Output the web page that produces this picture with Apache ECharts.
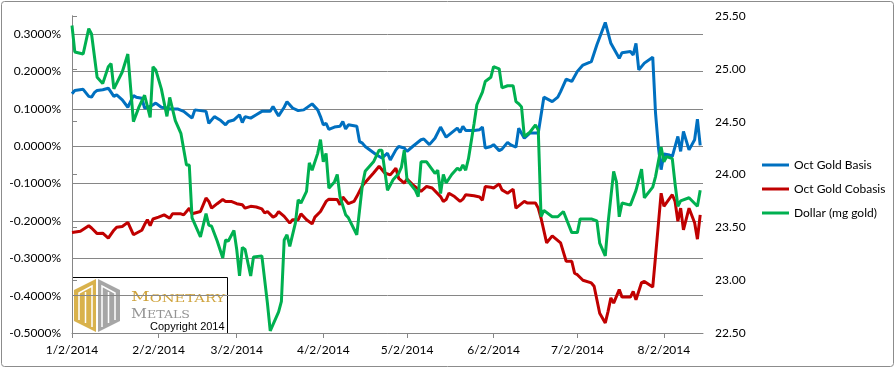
<!DOCTYPE html>
<html>
<head>
<meta charset="utf-8">
<script src="https://cdn.jsdelivr.net/npm/echarts@6/dist/echarts.min.js"></script>
<style>html,body{margin:0;padding:0;background:#fff}#c{width:896px;height:369px}</style>
</head>
<body>
<div id="c"></div>
<script>
// X-axis tick dates (month starts used by the original chart)
const monthTicks = ['1/2','2/2','3/2','4/2','5/2','6/2','7/2','8/2'];
const axisEnd = '8/16';

// Oct Gold Basis (%), left axis
const basis = [
['1/2',0.140],['1/3',0.149],['1/6',0.152],['1/8',0.133],['1/9',0.131],['1/10',0.143],['1/11',0.149],['1/13',0.151],['1/15',0.155],['1/17',0.133],['1/18',0.137],['1/20',0.124],['1/22',0.104],['1/24',0.135],['1/25',0.131],['1/27',0.128],['1/28',0.102],['1/30',0.106],['2/1',0.115],['2/3',0.104],['2/5',0.102],['2/6',0.099],['2/9',0.099],['2/11',0.093],['2/14',0.075],['2/15',0.097],['2/17',0.095],['2/19',0.093],['2/20',0.061],['2/22',0.079],['2/24',0.070],['2/26',0.057],['2/27',0.066],['3/1',0.070],['3/3',0.084],['3/4',0.063],['3/5',0.079],['3/7',0.075],['3/9',0.084],['3/11',0.093],['3/14',0.093],['3/15',0.106],['3/16',0.093],['3/17',0.081],['3/19',0.104],['3/20',0.119],['3/22',0.102],['3/24',0.095],['3/26',0.097],['3/29',0.113],['3/31',0.097],['4/1',0.079],['4/2',0.057],['4/3',0.061],['4/4',0.045],['4/6',0.051],['4/8',0.053],['4/9',0.066],['4/10',0.046],['4/11',0.057],['4/14',0.053],['4/15',0.012],['4/16',0.008],['4/17',-0.001],['4/21',-0.023],['4/23',-0.032],['4/25',-0.019],['4/26',-0.037],['4/28',-0.010],['4/29',-0.001],['5/1',-0.005],['5/2',-0.014],['5/4',-0.001],['5/7',0.017],['5/8',0.019],['5/10',0.004],['5/12',0.021],['5/14',0.051],['5/16',0.024],['5/20',0.048],['5/21',0.037],['5/22',0.053],['5/23',0.042],['5/26',0.042],['5/28',0.044],['5/29',0.051],['5/30',-0.005],['6/1',-0.001],['6/2',0.004],['6/4',-0.012],['6/5',-0.008],['6/7',0.010],['6/8',0.004],['6/10',-0.003],['6/11',0.048],['6/13',0.021],['6/15',0.035],['6/18',0.035],['6/20',0.131],['6/23',0.119],['6/25',0.131],['6/26',0.146],['6/28',0.179],['6/30',0.173],['7/2',0.200],['7/4',0.217],['7/7',0.226],['7/9',0.271],['7/12',0.331],['7/14',0.275],['7/17',0.235],['7/18',0.250],['7/21',0.253],['7/22',0.244],['7/23',0.275],['7/24',0.204],['7/26',0.222],['7/29',0.238],['7/30',0.088],['7/31',-0.001],['8/1',-0.063],['8/2',-0.021],['8/4',-0.024],['8/5',-0.028],['8/7',0.026],['8/8',-0.014],['8/9',0.039],['8/11',-0.010],['8/13',0.017],['8/14',0.072],['8/15',0.002]
];

// Oct Gold Cobasis (%), left axis
const cobasis = [
['1/2',-0.231],['1/5',-0.228],['1/8',-0.213],['1/9',-0.219],['1/11',-0.234],['1/13',-0.233],['1/15',-0.246],['1/17',-0.225],['1/18',-0.217],['1/20',-0.215],['1/22',-0.204],['1/24',-0.237],['1/27',-0.225],['1/28',-0.210],['1/29',-0.197],['1/30',-0.213],['1/31',-0.195],['2/2',-0.190],['2/4',-0.184],['2/6',-0.193],['2/7',-0.181],['2/10',-0.181],['2/11',-0.184],['2/13',-0.166],['2/14',-0.181],['2/17',-0.175],['2/19',-0.139],['2/20',-0.148],['2/21',-0.166],['2/23',-0.154],['2/25',-0.143],['2/26',-0.148],['2/28',-0.148],['3/2',-0.154],['3/4',-0.157],['3/5',-0.166],['3/7',-0.161],['3/9',-0.163],['3/11',-0.168],['3/12',-0.179],['3/13',-0.175],['3/15',-0.190],['3/16',-0.186],['3/17',-0.175],['3/19',-0.188],['3/21',-0.206],['3/22',-0.197],['3/24',-0.197],['3/25',-0.181],['3/27',-0.197],['3/29',-0.208],['3/30',-0.190],['4/1',-0.175],['4/3',-0.148],['4/4',-0.142],['4/7',-0.143],['4/8',-0.157],['4/9',-0.136],['4/11',-0.154],['4/13',-0.148],['4/14',-0.135],['4/16',-0.106],['4/17',-0.097],['4/20',-0.072],['4/22',-0.054],['4/24',-0.072],['4/26',-0.077],['4/28',-0.059],['4/29',-0.086],['5/1',-0.099],['5/2',-0.088],['5/4',-0.103],['5/7',-0.121],['5/9',-0.108],['5/11',-0.112],['5/14',-0.135],['5/15',-0.148],['5/16',-0.143],['5/17',-0.126],['5/19',-0.135],['5/21',-0.148],['5/22',-0.142],['5/23',-0.130],['5/26',-0.133],['5/28',-0.136],['5/29',-0.145],['5/30',-0.108],['6/1',-0.110],['6/2',-0.112],['6/4',-0.101],['6/5',-0.117],['6/7',-0.126],['6/9',-0.115],['6/10',-0.166],['6/13',-0.148],['6/14',-0.152],['6/17',-0.152],['6/18',-0.166],['6/19',-0.193],['6/21',-0.259],['6/23',-0.240],['6/26',-0.259],['6/28',-0.308],['6/30',-0.308],['7/1',-0.340],['7/2',-0.344],['7/4',-0.359],['7/7',-0.366],['7/8',-0.375],['7/9',-0.411],['7/10',-0.447],['7/12',-0.473],['7/13',-0.442],['7/14',-0.406],['7/15',-0.420],['7/17',-0.384],['7/18',-0.404],['7/21',-0.404],['7/22',-0.389],['7/23',-0.411],['7/25',-0.365],['7/26',-0.362],['7/29',-0.377],['7/30',-0.295],['8/1',-0.126],['8/2',-0.161],['8/5',-0.130],['8/6',-0.148],['8/7',-0.201],['8/8',-0.166],['8/9',-0.224],['8/11',-0.166],['8/13',-0.205],['8/14',-0.249],['8/15',-0.184]
];

// Dollar (mg gold), right axis
const dollar = [
['1/2',25.41],['1/3',25.16],['1/6',25.14],['1/8',25.38],['1/9',25.33],['1/11',24.92],['1/13',24.86],['1/15',25.02],['1/16',25.05],['1/17',24.81],['1/20',24.97],['1/22',25.14],['1/24',24.50],['1/26',24.64],['1/28',24.75],['1/30',24.54],['1/31',25.02],['2/1',24.99],['2/3',24.81],['2/5',24.55],['2/6',24.73],['2/8',24.51],['2/10',24.39],['2/12',24.09],['2/13',24.09],['2/14',23.59],['2/17',23.41],['2/19',23.63],['2/20',23.52],['2/21',23.51],['2/23',23.37],['2/25',23.21],['2/26',23.38],['2/27',23.37],['3/1',23.47],['3/2',23.29],['3/3',23.04],['3/4',23.31],['3/5',23.29],['3/7',23.04],['3/8',23.22],['3/11',23.23],['3/13',22.78],['3/14',22.52],['3/17',22.70],['3/18',22.80],['3/19',23.38],['3/20',23.43],['3/21',23.32],['3/23',23.54],['3/24',23.76],['3/25',23.73],['3/27',23.84],['3/28',24.11],['3/29',24.04],['3/31',24.20],['4/1',24.33],['4/2',24.12],['4/3',24.20],['4/4',23.87],['4/6',23.93],['4/7',24.00],['4/8',23.79],['4/10',23.62],['4/11',23.59],['4/14',23.43],['4/16',23.90],['4/17',24.03],['4/20',24.12],['4/22',24.23],['4/23',24.23],['4/25',23.85],['4/27',23.95],['4/29',24.01],['4/30',24.07],['5/1',24.23],['5/2',23.95],['5/5',23.85],['5/6',23.79],['5/7',24.12],['5/9',24.12],['5/12',24.01],['5/13',24.04],['5/14',23.82],['5/15',24.00],['5/16',23.92],['5/18',24.00],['5/20',24.06],['5/21',24.04],['5/22',24.09],['5/23',24.04],['5/24',24.15],['5/26',24.48],['5/27',24.66],['5/29',24.78],['5/30',24.88],['6/1',24.92],['6/2',25.02],['6/4',25.00],['6/5',24.82],['6/7',24.84],['6/9',24.84],['6/10',24.69],['6/11',24.67],['6/12',24.64],['6/13',24.36],['6/15',24.40],['6/17',24.47],['6/18',24.42],['6/19',23.60],['6/20',23.66],['6/23',23.60],['6/25',23.60],['6/27',23.65],['6/30',23.45],['7/2',23.45],['7/3',23.58],['7/7',23.58],['7/9',23.56],['7/10',23.35],['7/12',23.23],['7/13',23.54],['7/15',24.03],['7/16',23.93],['7/17',23.60],['7/18',23.73],['7/21',23.71],['7/23',23.85],['7/25',24.05],['7/26',23.78],['7/29',23.88],['7/30',23.98],['8/1',24.26],['8/2',24.12],['8/3',24.17],['8/5',24.15],['8/6',23.91],['8/7',23.70],['8/8',23.75],['8/11',23.78],['8/14',23.70],['8/15',23.85]
];

const YEAR = 2014;
const BASE = Date.UTC(YEAR, 0, 2);
function toDay(md) {
  const p = md.split('/');
  return Math.round((Date.UTC(YEAR, +p[0] - 1, +p[1]) - BASE) / 864e5);
}
function dayLabel(d) {
  const dt = new Date(BASE + d * 864e5);
  return (dt.getUTCMonth() + 1) + '/' + dt.getUTCDate() + '/' + dt.getUTCFullYear();
}
const toXY = arr => arr.map(r => [toDay(r[0]), r[1]]);
const tickDays = monthTicks.map(toDay);
const xMax = toDay(axisEnd);

const GRID_C = '#868686';
const FONT = 'Lato';
const L = 72, R = 193, B = 36;

const chart = echarts.init(document.getElementById('c'), null, {renderer: 'canvas'});
chart.setOption({
  animation: false,
  backgroundColor: '#fff',
  grid: [
    {left: L, right: R, top: 34, bottom: B},
    {left: L, right: R, top: 16, bottom: B}
  ],
  xAxis: [
    {gridIndex: 0, type: 'value', min: 0, max: xMax, show: false},
    {gridIndex: 1, type: 'value', min: 0, max: xMax,
     axisLine: {lineStyle: {color: GRID_C, width: 1}},
     axisTick: {show: true, length: 5, customValues: tickDays, lineStyle: {color: GRID_C}},
     axisLabel: {customValues: tickDays, formatter: v => dayLabel(v), margin: 11,
                 fontFamily: FONT, fontSize: 12, color: '#000'},
     splitLine: {show: false}}
  ],
  yAxis: [
    {gridIndex: 0, type: 'value', position: 'left', min: -0.5, max: 0.3, interval: 0.1,
     axisLine: {show: false}, axisTick: {show: false},
     axisLabel: {formatter: v => v.toFixed(4) + '%', margin: 11, fontFamily: FONT, fontSize: 12, color: '#000'},
     splitLine: {show: true, lineStyle: {color: GRID_C, width: 1}}},
    {gridIndex: 1, type: 'value', position: 'right', min: 22.5, max: 25.5, interval: 0.5,
     axisLine: {show: true, lineStyle: {color: GRID_C, width: 1}},
     axisTick: {show: true, length: 5, lineStyle: {color: GRID_C}},
     axisLabel: {formatter: v => v.toFixed(2), margin: 12, fontFamily: FONT, fontSize: 12, color: '#000'},
     splitLine: {show: false}},
    {gridIndex: 1, type: 'value', position: 'left', min: 0, max: 1,
     axisLine: {show: true, lineStyle: {color: GRID_C, width: 1}},
     axisTick: {show: false}, axisLabel: {show: false}, splitLine: {show: false}}
  ],
  legend: {
    orient: 'vertical', left: 757, top: 153, itemWidth: 27, itemHeight: 3, itemGap: 10,
    icon: 'rect',
    textStyle: {fontFamily: FONT, fontSize: 12, color: '#000', lineHeight: 14},
    data: ['Oct Gold Basis', 'Oct Gold Cobasis', 'Dollar (mg gold)']
  },
  series: [
    {name: 'Oct Gold Basis', type: 'line', xAxisIndex: 0, yAxisIndex: 0, data: toXY(basis),
     showSymbol: false, clip: false, color: '#0070C0', lineStyle: {width: 3, color: '#0070C0'}, z: 3},
    {name: 'Oct Gold Cobasis', type: 'line', xAxisIndex: 0, yAxisIndex: 0, data: toXY(cobasis),
     showSymbol: false, clip: false, color: '#C00000', lineStyle: {width: 3, color: '#C00000'}, z: 3},
    {name: 'Dollar (mg gold)', type: 'line', xAxisIndex: 1, yAxisIndex: 1, data: toXY(dollar),
     showSymbol: false, clip: false, color: '#00B050', lineStyle: {width: 3, color: '#00B050'}, z: 4}
  ],
  graphic: [
    {type: 'rect', z: 0, silent: true, shape: {x: 1.5, y: 1.5, width: 892, height: 365, r: 3},
     style: {fill: null, stroke: '#8c8c8c', lineWidth: 1}},
    {type: 'group', z: 100, children: [
      {type: 'rect', shape: {x: 72.5, y: 277.5, width: 155, height: 56},
       style: {fill: '#fff', stroke: '#000', lineWidth: 1}},
      {type: 'polygon', shape: {points: [[74, 290], [96, 279], [96, 332], [74, 321]]}, style: {fill: '#D9B24C'}},
      {type: 'polygon', shape: {points: [[98, 279], [120, 290], [120, 321], [98, 332]]}, style: {fill: '#A6A6A6'}},
      {type: 'polyline', shape: {points: [[79, 320], [79, 293], [92, 286], [92, 327]]}, style: {stroke: '#fff', lineWidth: 1.5, fill: null}},
      {type: 'line', shape: {x1: 85.5, y1: 292, x2: 85.5, y2: 323}, style: {stroke: '#fff', lineWidth: 1.5}},
      {type: 'polyline', shape: {points: [[115, 320], [115, 293], [102, 286], [102, 327]]}, style: {stroke: '#fff', lineWidth: 1.5, fill: null}},
      {type: 'line', shape: {x1: 108.5, y1: 292, x2: 108.5, y2: 323}, style: {stroke: '#fff', lineWidth: 1.5}},
      {type: 'text', x: 131, y: 304.5, scaleX: 1.4,
       style: {text: '{a|M}{b|ONETARY}', verticalAlign: 'bottom', align: 'left',
               rich: {a: {fontFamily: 'DejaVu Serif', fontSize: 13, fill: '#CFA33C', verticalAlign: 'bottom'},
                      b: {fontFamily: 'DejaVu Serif', fontSize: 10.5, fill: '#CFA33C', verticalAlign: 'bottom'}}}},
      {type: 'text', x: 131, y: 321, scaleX: 1.2,
       style: {text: '{a|M}{b|ETALS}', verticalAlign: 'bottom', align: 'left',
               rich: {a: {fontFamily: 'DejaVu Serif', fontSize: 13, fill: '#949494', verticalAlign: 'bottom'},
                      b: {fontFamily: 'DejaVu Serif', fontSize: 10.5, fill: '#949494', verticalAlign: 'bottom'}}}},
      {type: 'text', x: 150, y: 326.5,
       style: {text: 'Copyright 2014', fontFamily: 'Liberation Sans', fontSize: 11, fill: '#000', verticalAlign: 'middle', align: 'left'}}
    ]}
  ]
});
</script>
</body>
</html>
